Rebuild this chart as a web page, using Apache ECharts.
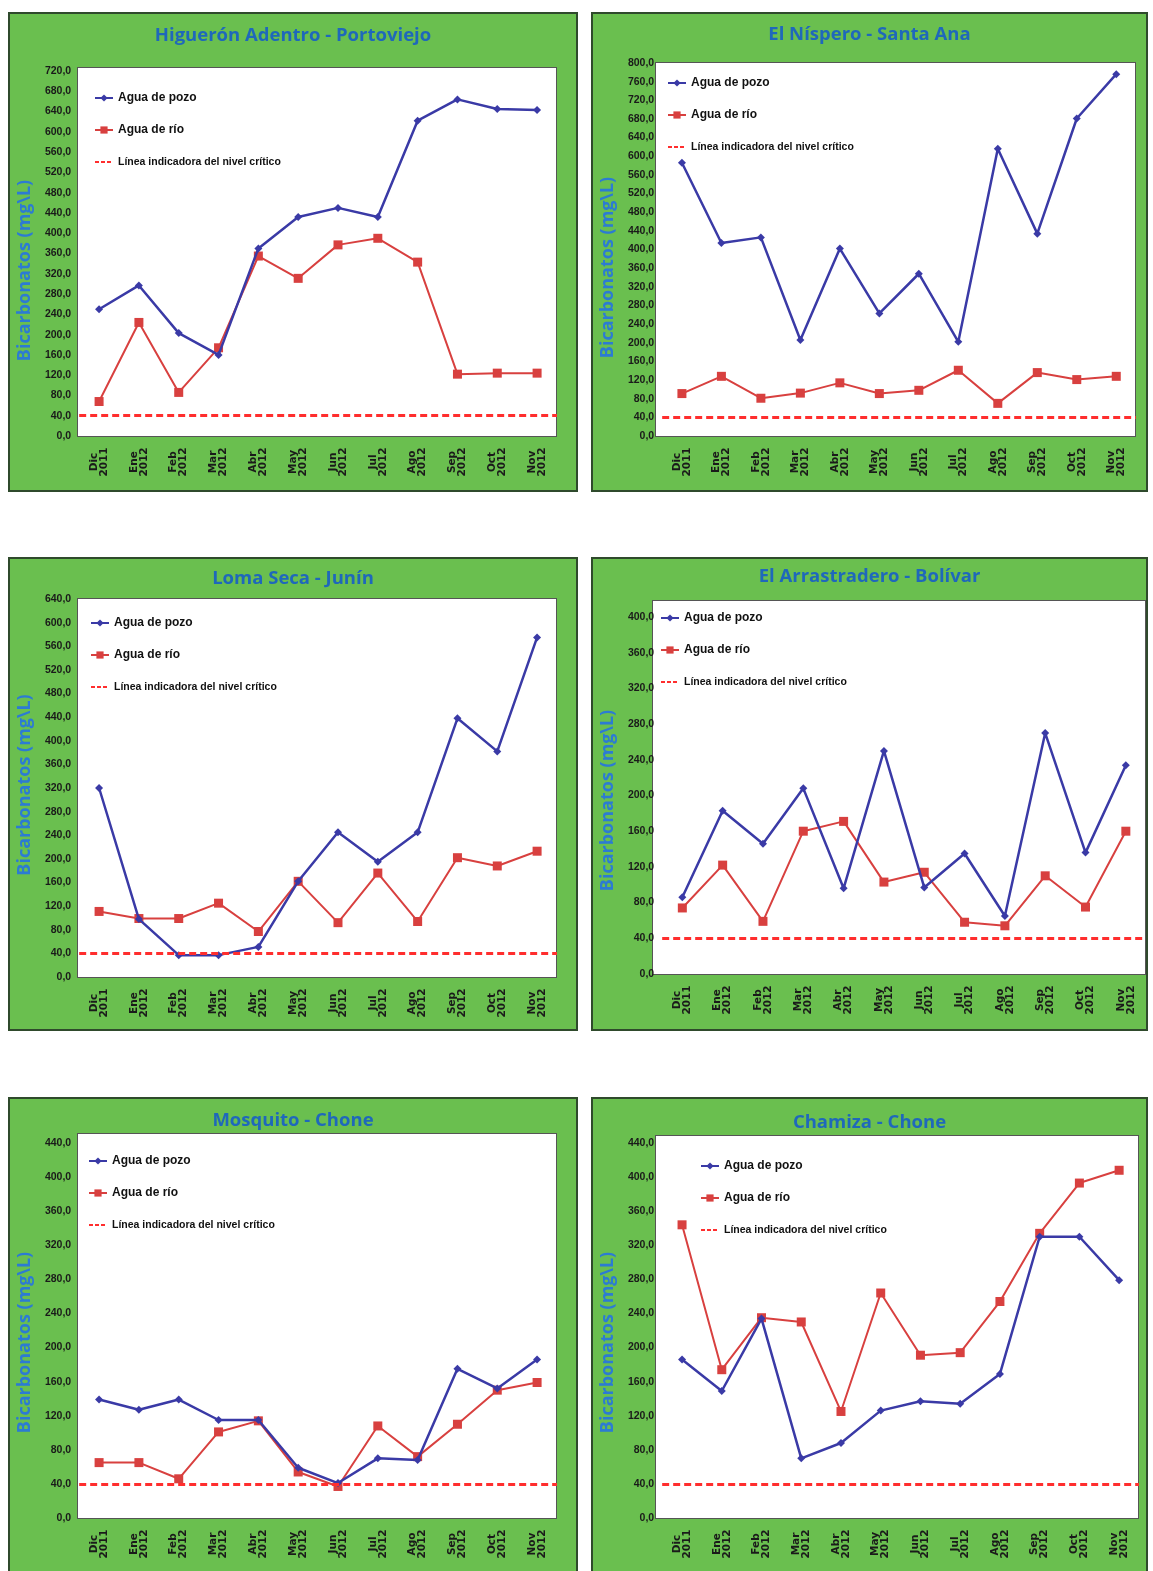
<!DOCTYPE html>
<html>
<head>
<meta charset="utf-8">
<script src="https://cdn.jsdelivr.net/npm/echarts@6/dist/echarts.min.js"></script>
<style>
  html, body { margin: 0; padding: 0; background: #ffffff; }
  #page { position: relative; width: 1153px; height: 1571px; overflow: hidden; background: #ffffff; }
  .panel { position: absolute; background: #6abf4f; box-shadow: inset 0 0 0 2px #2f4a2c; }
  .plot { position: absolute; background: #ffffff; box-sizing: border-box; border: 1px solid #555555; }
  .chart { position: absolute; left: 0; top: 0; width: 100%; height: 100%; }
</style>
</head>
<body>
<div id="page"></div>
<script>
// Meses de muestreo (dic 2011 - nov 2012)
const meses = ['Dic\n2011', 'Ene\n2012', 'Feb\n2012', 'Mar\n2012', 'Abr\n2012', 'May\n2012',
               'Jun\n2012', 'Jul\n2012', 'Ago\n2012', 'Sep\n2012', 'Oct\n2012', 'Nov\n2012'];

// Nivel crítico de bicarbonatos (mg/L)
const nivelCritico = 40;

// Higuerón Adentro - Portoviejo
const higueronPozo = [250, 297, 203, 160, 370, 432, 450, 432, 622, 664, 645, 643];
const higueronRio  = [68, 224, 86, 174, 355, 311, 377, 390, 343, 122, 124, 124];

// El Níspero - Santa Ana
const nisperoPozo = [586, 414, 426, 206, 402, 263, 348, 202, 616, 434, 681, 776];
const nisperoRio  = [91, 128, 81, 92, 114, 91, 98, 141, 70, 136, 121, 128];

// Loma Seca - Junín
const lomaPozo = [320, 98, 37, 37, 51, 162, 245, 195, 245, 438, 382, 575];
const lomaRio  = [111, 99, 99, 125, 77, 162, 92, 176, 94, 202, 188, 213];

// El Arrastradero - Bolívar
const arrasPozo = [86, 183, 146, 208, 96, 250, 97, 135, 65, 270, 136, 234];
const arrasRio  = [74, 122, 59, 160, 171, 103, 114, 58, 54, 110, 75, 160];

// Mosquito - Chone
const mosquitoPozo = [139, 127, 139, 115, 115, 59, 41, 70, 68, 175, 152, 186];
const mosquitoRio  = [65, 65, 46, 101, 114, 54, 37, 108, 72, 110, 150, 159];

// Chamiza - Chone
const chamizaPozo = [186, 149, 234, 70, 88, 126, 137, 134, 169, 330, 330, 279];
const chamizaRio  = [344, 174, 235, 230, 125, 264, 191, 194, 254, 334, 393, 408];

// Máximo del eje Y de cada gráfico
const ejeMax = [720, 800, 640, 400, 440, 440];
const ejeIntervalo = 40;

const nombresSerie = ['Agua de pozo', 'Agua de río', 'Línea indicadora del nivel crítico'];

// Disposición de cada recuadro (coordenadas de página)
// caja: [x, y, w, h]  area: [x, y, w, h]  eje: [y del máximo, y del cero]
// nombreDesv: desplazamiento vertical del título del eje Y respecto al centro del eje
const paneles = [
  { titulo: 'Higuerón Adentro - Portoviejo', pozo: higueronPozo, rio: higueronRio, max: ejeMax[0],
    caja: [8, 12, 570, 480], area: [77, 67, 480, 370], eje: [71, 436], leyenda: [86, 79], tituloY: 23, nombreDesv: 17 },
  { titulo: 'El Níspero - Santa Ana', pozo: nisperoPozo, rio: nisperoRio, max: ejeMax[1],
    caja: [591, 12, 557, 480], area: [655, 62, 481, 375], eje: [63, 436], leyenda: [76, 64], tituloY: 22, nombreDesv: 18 },
  { titulo: 'Loma Seca - Junín', pozo: lomaPozo, rio: lomaRio, max: ejeMax[2],
    caja: [8, 557, 570, 474], area: [77, 598, 480, 380], eje: [599, 977], leyenda: [82, 59], tituloY: 21, nombreDesv: -3 },
  { titulo: 'El Arrastradero - Bolívar', pozo: arrasPozo, rio: arrasRio, max: ejeMax[3],
    caja: [591, 557, 557, 474], area: [652, 600, 494, 375], eje: [617, 974], leyenda: [69, 54], tituloY: 19, nombreDesv: 5 },
  { titulo: 'Mosquito - Chone', pozo: mosquitoPozo, rio: mosquitoRio, max: ejeMax[4],
    caja: [8, 1097, 570, 480], area: [77, 1133, 480, 386], eje: [1143, 1518], leyenda: [80, 57], tituloY: 23, nombreDesv: 12 },
  { titulo: 'Chamiza - Chone', pozo: chamizaPozo, rio: chamizaRio, max: ejeMax[5],
    caja: [591, 1097, 557, 480], area: [655, 1135, 484, 384], eje: [1143, 1518], leyenda: [109, 62], tituloY: 25, nombreDesv: 12 }
];

const fuenteTitulo = "'Open Sans', 'Noto Sans', sans-serif";
const fuenteEtiqueta = "'Liberation Sans', Arial, sans-serif";
const fuenteMes = "'DejaVu Sans', sans-serif";
const azul = '#3a3aa6';
const rojo = '#d8403f';
const rojoCritico = '#ff2e2e';

const page = document.getElementById('page');

paneles.forEach(function (p) {
  const [cx, cy, cw, ch] = p.caja;
  const [ax, ay, aw, ah] = p.area;

  const panel = document.createElement('div');
  panel.className = 'panel';
  panel.style.left = cx + 'px';
  panel.style.top = cy + 'px';
  panel.style.width = cw + 'px';
  panel.style.height = ch + 'px';
  page.appendChild(panel);

  const plot = document.createElement('div');
  plot.className = 'plot';
  plot.style.left = (ax - cx) + 'px';
  plot.style.top = (ay - cy) + 'px';
  plot.style.width = aw + 'px';
  plot.style.height = ah + 'px';
  panel.appendChild(plot);

  const el = document.createElement('div');
  el.className = 'chart';
  panel.appendChild(el);

  const chart = echarts.init(el, null, { renderer: 'canvas' });
  const gridTop = p.eje[0] - cy;
  const gridHeight = p.eje[1] - p.eje[0];

  // Relleno asimétrico para bajar (o subir) el título rotado del eje Y
  const desv = p.nombreDesv * 2;
  const relleno = desv >= 0 ? [0, desv, 0, 0] : [0, 0, 0, -desv];

  const textoLeyenda = { color: '#111111', fontFamily: fuenteEtiqueta, fontWeight: 'bold', fontSize: 12, lineHeight: 14 };

  chart.setOption({
    animation: false,
    backgroundColor: 'transparent',
    title: {
      text: p.titulo,
      left: 'center',
      top: p.tituloY - 9,
      padding: 0,
      textStyle: { color: '#1f68bb', fontFamily: fuenteTitulo, fontWeight: 'bold', fontSize: 18.5 }
    },
    legend: {
      orient: 'vertical',
      left: p.leyenda[0],
      top: p.leyenda[1],
      itemGap: 18,
      itemWidth: 18,
      itemHeight: 9,
      padding: 0,
      textStyle: textoLeyenda,
      data: [
        { name: nombresSerie[0] },
        { name: nombresSerie[1] },
        {
          name: nombresSerie[2],
          itemStyle: { color: 'rgba(0,0,0,0)', borderColor: 'rgba(0,0,0,0)', borderWidth: 0 },
          lineStyle: { color: rojoCritico, width: 2, type: [4, 2] },
          textStyle: { fontSize: 10.5 }
        }
      ]
    },
    grid: {
      left: ax - cx,
      width: aw,
      top: gridTop,
      height: gridHeight,
      containLabel: false
    },
    xAxis: {
      type: 'category',
      data: meses,
      boundaryGap: true,
      axisLine: { show: false },
      axisTick: { show: false },
      axisLabel: {
        rotate: 90,
        align: 'center',
        verticalAlign: 'middle',
        margin: 26,
        interval: 0,
        color: '#1a1a1a',
        fontFamily: fuenteMes,
        fontWeight: 'bold',
        fontSize: 10.5,
        lineHeight: 10
      }
    },
    yAxis: {
      type: 'value',
      min: 0,
      max: p.max,
      interval: ejeIntervalo,
      name: 'Bicarbonatos (mg\\L)',
      nameLocation: 'middle',
      nameGap: 43,
      nameTextStyle: {
        color: '#2c7bd3', fontFamily: fuenteTitulo, fontWeight: 'bold', fontSize: 18,
        padding: relleno
      },
      axisLine: { show: false },
      axisTick: { show: false },
      splitLine: { show: false },
      axisLabel: {
        margin: 8,
        color: '#1a1a1a',
        fontFamily: fuenteEtiqueta,
        fontWeight: 'bold',
        fontSize: 10.5,
        formatter: function (v) { return v.toFixed(1).replace('.', ','); }
      }
    },
    series: [
      {
        name: nombresSerie[2],
        type: 'line',
        data: [],
        symbol: 'none',
        itemStyle: { color: rojoCritico },
        lineStyle: { color: rojoCritico, width: 3, type: [7, 4] },
        markLine: {
          silent: true,
          symbol: 'none',
          label: { show: false },
          lineStyle: { color: rojoCritico, width: 3, type: [7, 4] },
          data: [{ yAxis: nivelCritico }]
        },
        z: 1
      },
      {
        name: nombresSerie[1],
        type: 'line',
        data: p.rio,
        symbol: 'rect',
        symbolSize: 9,
        itemStyle: { color: rojo },
        lineStyle: { color: rojo, width: 2 },
        z: 2
      },
      {
        name: nombresSerie[0],
        type: 'line',
        data: p.pozo,
        symbol: 'diamond',
        symbolSize: 8,
        itemStyle: { color: azul },
        lineStyle: { color: azul, width: 2.5 },
        z: 3
      }
    ]
  });
});
</script>
</body>
</html>
